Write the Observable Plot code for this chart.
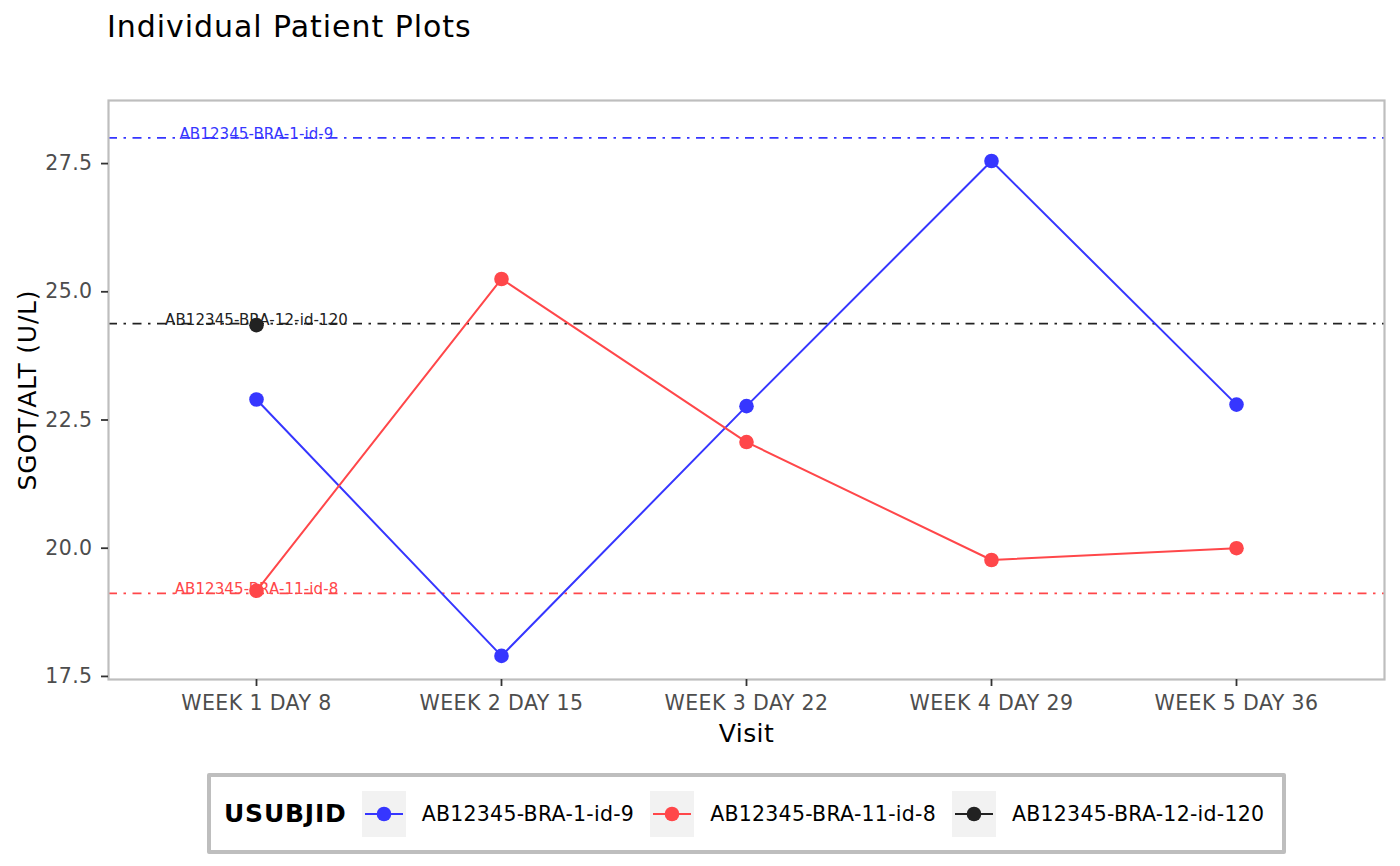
<!DOCTYPE html>
<html><head><meta charset="utf-8">
<script src="https://cdn.jsdelivr.net/npm/d3@7"></script>
<script src="https://cdn.jsdelivr.net/npm/@observablehq/plot@0.6"></script>
<style>
body{margin:0;background:#fff;font-family:"DejaVu Sans",sans-serif;}
#wrap{position:relative;width:1400px;height:866px;overflow:hidden;}
#title{position:absolute;left:107px;top:12px;font-size:30px;line-height:30px;color:#000;white-space:nowrap;letter-spacing:0.95px;}
#chart{position:absolute;left:0;top:0;}
#legend{position:absolute;left:207px;top:773px;width:1079px;height:81px;box-sizing:border-box;border:4px solid #BEBEBE;border-radius:2px;display:flex;align-items:center;padding-left:13px;background:#fff;}
#legend .ttl{font-weight:bold;font-size:25px;color:#000;margin-right:15px;letter-spacing:0.8px;}
#legend .key{width:44px;height:46px;background:#F2F2F2;margin-right:16px;}
#legend .lab{font-size:20.5px;color:#000;margin-right:16px;white-space:nowrap;letter-spacing:0.25px;}
</style></head>
<body><div id="wrap"><div id="title">Individual Patient Plots</div><div id="chart"></div><div id="legend"></div></div>
<script>
const visits = ["WEEK 1 DAY 8","WEEK 2 DAY 15","WEEK 3 DAY 22","WEEK 4 DAY 29","WEEK 5 DAY 36"];
const subjects = ["AB12345-BRA-1-id-9","AB12345-BRA-11-id-8","AB12345-BRA-12-id-120"];
const colors = ["#3636FF","#FF474A","#222222"];
const valuesBRA1 = [22.9,17.9,22.77,27.55,22.8];
const valuesBRA11 = [19.17,25.25,22.07,19.77,20.0];
const valuesBRA12 = [24.35];
const baselines = [28.0,19.12,24.38];
const yTicks = [17.5,20,22.5,25,27.5];
const legendTitle = "USUBJID";

const series = [valuesBRA1, valuesBRA11, valuesBRA12];
const data = [];
series.forEach((vals,si)=>vals.forEach((v,i)=>data.push({subject:subjects[si], visit:visits[i], value:v})));
const baseData = subjects.map((s,i)=>({subject:s, value:baselines[i], visit:visits[0]}));

const chart = Plot.plot({
  width:1400, height:760,
  marginTop:100, marginLeft:108, marginRight:16, marginBottom:81,
  style:{fontFamily:"DejaVu Sans", fontSize:"20.5px", color:"#4D4D4D", background:"transparent", overflow:"visible", letterSpacing:"0.4px"},
  x:{type:"point", domain:visits, padding:0.6},
  y:{domain:[17.44,28.73]},
  color:{domain:subjects, range:colors},
  marks:[
    Plot.ruleY(baseData,{y:"value", stroke:"subject", strokeWidth:1.8, strokeDasharray:"9,6.5,2.5,6.5"}),
    Plot.text(baseData,{x:"visit", y:"value", text:"subject", fill:"subject", fontSize:15, lineAnchor:"bottom", dy:1}),
    Plot.line(data,{x:"visit", y:"value", stroke:"subject", z:"subject", strokeWidth:2}),
    Plot.dot(data,{x:"visit", y:"value", fill:"subject", r:7.3}),
    Plot.frame({stroke:"#BEBEBE", strokeWidth:2.2}),
    Plot.axisY({ticks:yTicks, tickFormat:d3.format(".1f"), tickSize:7, tickPadding:9, stroke:"#333333", strokeWidth:1.8, label:null}),
    Plot.axisX({tickSize:7, tickPadding:9, stroke:"#333333", strokeWidth:1.8, label:null}),
    Plot.text(["SGOT/ALT (U/L)"],{frameAnchor:"left", rotate:-90, dx:-81, fill:"#000", fontSize:25, textAnchor:"middle", lineAnchor:"middle"}),
    Plot.text(["Visit"],{frameAnchor:"bottom", dy:54, fill:"#000", fontSize:25, textAnchor:"middle", lineAnchor:"middle"})
  ]
});
document.getElementById("chart").appendChild(chart);
// axis titles: wider tracking like the reference's hinted rendering
d3.select(chart).selectAll("text").filter(function(){ return this.textContent === "SGOT/ALT (U/L)"; }).style("letter-spacing","0.8px");
d3.select(chart).selectAll("text").filter(function(){ return subjects.includes(this.textContent); }).style("letter-spacing","0.1px");

const lg = document.getElementById("legend");
const t = document.createElement("div"); t.className="ttl"; t.textContent=legendTitle; lg.appendChild(t);
subjects.forEach((s,i)=>{
  const k = document.createElement("div"); k.className="key";
  k.innerHTML = `<svg width="44" height="46"><line x1="3" x2="41" y1="23" y2="23" stroke="${colors[i]}" stroke-width="2"/><circle cx="22" cy="23" r="7.3" fill="${colors[i]}"/></svg>`;
  lg.appendChild(k);
  const l = document.createElement("div"); l.className="lab"; l.textContent=s; lg.appendChild(l);
});
</script></body></html>
